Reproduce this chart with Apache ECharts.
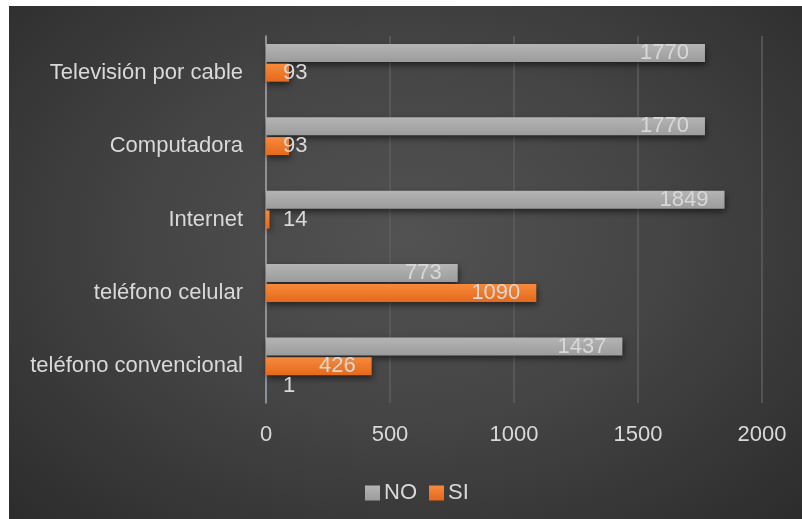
<!DOCTYPE html>
<html>
<head>
<meta charset="utf-8">
<script src="https://cdn.jsdelivr.net/npm/echarts@6/dist/echarts.min.js"></script>
<style>
  html, body { margin: 0; padding: 0; background: #fff; }
  #chart {
    position: absolute; left: 9px; top: 6px; width: 793px; height: 513px;
    background: radial-gradient(ellipse at 50% 45%, #525252 0%, #454545 45%, #2c2c2c 100%);
  }
</style>
</head>
<body>
<div id="chart"></div>
<script>
// categorias de abajo hacia arriba
const categories = ['teléfono convencional', 'teléfono celular', 'Internet', 'Computadora', 'Televisión por cable']
const noValues = [1437, 773, 1849, 1770, 1770]
const siValues = [426, 1090, 14, 93, 93]
const otherValues = [1, null, null, null, null]
const xTicks = [0, 500, 1000, 1500, 2000]

const font = 'Liberation Sans'
const fs = 22

// etiqueta dentro del extremo, o fuera si la barra es corta
function withLabels(values) {
  return values.map(v => {
    if (v == null) return null
    return {
      value: v,
      label: v < 200 ? { position: 'insideLeft', distance: 17 } : { position: 'insideRight', distance: 16 },
    }
  })
}

const barShadow = { shadowBlur: 6, shadowOffsetX: 1, shadowOffsetY: 3, shadowColor: 'rgba(0,0,0,0.55)' }

const chart = echarts.init(document.getElementById('chart'))
chart.setOption({
  backgroundColor: 'transparent',
  animation: false,
  grid: { left: 257, right: 40, top: 30, bottom: 116 },
  legend: {
    data: ['NO', 'SI'],
    left: 351,
    top: 471,
    itemWidth: 15,
    itemHeight: 15,
    itemGap: 12,
    icon: 'rect',
    textStyle: { color: '#d9d9d9', fontSize: fs, fontFamily: font, padding: [0, 0, 0, -1] },
  },
  xAxis: {
    type: 'value',
    min: xTicks[0],
    max: xTicks[xTicks.length - 1],
    interval: 500,
    axisLine: { show: false },
    axisTick: { show: false },
    splitLine: { lineStyle: { color: '#5e5e5e', width: 1.5 } },
    axisLabel: { color: '#d9d9d9', fontSize: fs, fontFamily: font, margin: 21, formatter: v => String(v) },
  },
  yAxis: {
    type: 'category',
    data: categories,
    axisLine: { show: true, lineStyle: { color: '#a6a6a6', width: 1.5 } },
    axisTick: { show: false },
    axisLabel: { color: '#d9d9d9', fontSize: fs, fontFamily: font, margin: 23 },
  },
  series: [
    {
      name: 'NO',
      type: 'bar',
      data: withLabels(noValues),
      barWidth: 18,
      barGap: '10%',
      itemStyle: {
        color: new echarts.graphic.LinearGradient(0, 0, 0, 1, [
          { offset: 0, color: '#b4b4b4' },
          { offset: 1, color: '#9c9c9c' },
        ]),
        ...barShadow,
      },
      label: { show: true, color: '#d8d8d8', fontSize: fs, fontFamily: font },
    },
    {
      name: 'SI',
      type: 'bar',
      data: withLabels(siValues),
      barWidth: 18,
      barGap: '10%',
      itemStyle: {
        color: new echarts.graphic.LinearGradient(0, 0, 0, 1, [
          { offset: 0, color: '#f68a3c' },
          { offset: 1, color: '#e5691b' },
        ]),
        ...barShadow,
      },
      label: { show: true, color: '#d9d9d9', fontSize: fs, fontFamily: font },
    },
    {
      name: 'NS',
      type: 'bar',
      data: withLabels(otherValues),
      barWidth: 18,
      barGap: '10%',
      itemStyle: { color: '#5b8fd0' },
      label: { show: true, color: '#d9d9d9', fontSize: fs, fontFamily: font },
    },
  ],
})
</script>
</body>
</html>
